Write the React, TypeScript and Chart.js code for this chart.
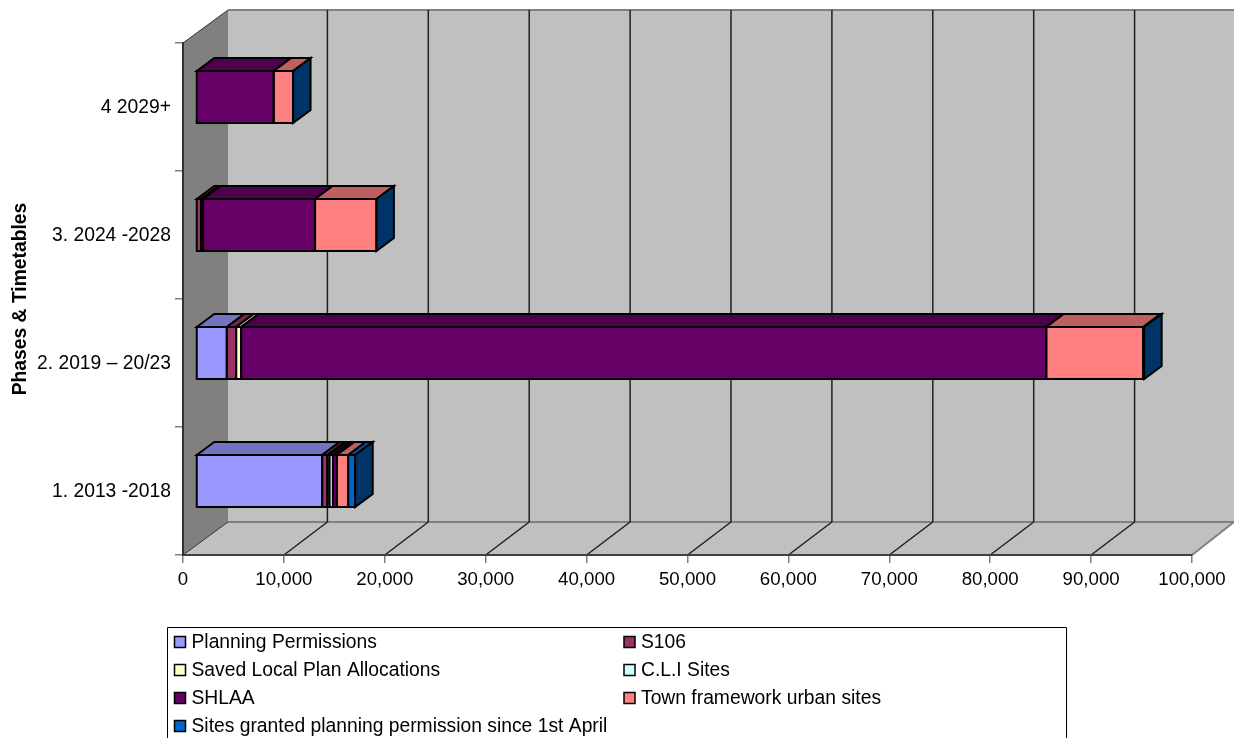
import React, { useEffect, useRef } from "react";
import { Chart, registerables } from "chart.js";

Chart.register(...registerables);

const categories = ["1. 2013 -2018", "2. 2019 – 20/23", "3. 2024 -2028", "4 2029+"];
const planningPermissions = [12500, 3050, 0, 0];
const s106 = [520, 930, 500, 0];
const savedLocalPlan = [200, 490, 100, 0];
const cliSites = [350, 0, 100, 0];
const shlaa = [390, 79800, 11100, 7700];
const townFramework = [1120, 9600, 6080, 1920];
const sitesGranted = [700, 100, 0, 0];
const seriesNames = [
  "Planning Permissions",
  "S106",
  "Saved Local Plan Allocations",
  "C.L.I Sites",
  "SHLAA",
  "Town framework urban sites",
  "Sites granted planning permission since 1st April",
];
const seriesValues = [planningPermissions, s106, savedLocalPlan, cliSites, shlaa, townFramework, sitesGranted];
const seriesColors = ["#9999FF", "#993366", "#FFFFCC", "#CCFFFF", "#660066", "#FF8080", "#0066CC"];
const axisTitle = "Phases & Timetables";

const FONT = '"Liberation Sans", Arial, sans-serif';
const TICK_FONT_SIZE = 18.67;
const FONT_SIZE = 19.3;
// depth of the 3-D box and of the bars inside it
const DX = 45, DY = -33;
const GRID_DX = 43.5;
const RIGHT_DX = 42;
const BAR_DX = 13, BAR_DY = -10, BAR_DEPTH_X = 17.5, BAR_DEPTH_Y = -13;

function shade(hex: string, f: number) {
  const n = parseInt(hex.slice(1), 16);
  const c = [(n >> 16) & 255, (n >> 8) & 255, n & 255].map((v) => Math.round(v * f));
  return `rgb(${c[0]},${c[1]},${c[2]})`;
}

function poly(ctx: CanvasRenderingContext2D, pts: number[][], fill?: string, stroke?: string, lw = 1) {
  ctx.beginPath();
  pts.forEach((p, i) => (i ? ctx.lineTo(p[0], p[1]) : ctx.moveTo(p[0], p[1])));
  ctx.closePath();
  if (fill) {
    ctx.fillStyle = fill;
    ctx.fill();
  }
  if (stroke) {
    ctx.strokeStyle = stroke;
    ctx.lineWidth = lw;
    ctx.lineJoin = "miter";
    ctx.stroke();
  }
}

const box3d = {
  id: "box3d",
  beforeDraw(chart: any) {
    const { ctx, chartArea: a, scales } = chart;
    const { left: l, right: r, top: t, bottom: b } = a;
    ctx.save();
    // side wall
    poly(ctx, [[l, t], [l + DX, t + DY], [l + DX, b + DY], [l, b]], "#808080");
    // back wall
    poly(ctx, [[l + DX, t + DY], [r + DX, t + DY], [r + DX, b + DY], [l + DX, b + DY]], "#C0C0C0");
    // floor
    poly(ctx, [[l, b], [l + DX, b + DY], [r + RIGHT_DX, b + DY], [r, b]], "#C0C0C0");
    // wall edges
    ctx.strokeStyle = "#808080";
    ctx.lineWidth = 2;
    ctx.beginPath();
    ctx.moveTo(l + DX, t + DY);
    ctx.lineTo(r + DX, t + DY);
    ctx.moveTo(l + DX, b + DY);
    ctx.lineTo(r + DX, b + DY);
    ctx.moveTo(r, b);
    ctx.lineTo(r + RIGHT_DX, b + DY);
    ctx.stroke();
    ctx.strokeStyle = "#303030";
    ctx.lineWidth = 1;
    ctx.beginPath();
    ctx.moveTo(l, t);
    ctx.lineTo(l + DX, t + DY);
    ctx.moveTo(l, b);
    ctx.lineTo(l + DX, b + DY);
    ctx.stroke();
    // value gridlines, back wall and floor
    ctx.strokeStyle = "#202020";
    ctx.lineWidth = 1.5;
    ctx.beginPath();
    scales.x.ticks.forEach((tick: any) => {
      const v = tick.value;
      if (v === 0 || v === scales.x.max) return;
      const x = scales.x.getPixelForValue(v);
      const xb = x + GRID_DX;
      ctx.moveTo(xb, t + DY);
      ctx.lineTo(xb, b + DY);
      ctx.moveTo(xb, b + DY);
      ctx.lineTo(x, b);
    });
    ctx.stroke();
    ctx.restore();
  },
  beforeDatasetsDraw(chart: any) {
    chart.ctx.save();
    chart.ctx.translate(BAR_DX, BAR_DY);
  },
  afterDatasetsDraw(chart: any) {
    const { ctx } = chart;
    const n = chart.data.datasets.length;
    ctx.lineWidth = 2;
    ctx.strokeStyle = "#000";
    ctx.lineJoin = "miter";
    // front outlines (still in the translated frame)
    for (let d = 0; d < n; d++) {
      chart.getDatasetMeta(d).data.forEach((el: any) => {
        const p = el.getProps(["x", "y", "base", "height"], true);
        if (Math.abs(p.x - p.base) < 0.1) return;
        ctx.strokeRect(p.base, p.y - p.height / 2, p.x - p.base, p.height);
      });
    }
    // top faces and the closing side face
    for (let d = 0; d < n; d++) {
      const color = chart.data.datasets[d].backgroundColor as string;
      chart.getDatasetMeta(d).data.forEach((el: any) => {
        const p = el.getProps(["x", "y", "base", "height"], true);
        const top = p.y - p.height / 2;
        const bottom = p.y + p.height / 2;
        if (Math.abs(p.x - p.base) >= 0.1) {
          poly(
            ctx,
            [[p.base, top], [p.base + BAR_DEPTH_X, top + BAR_DEPTH_Y], [p.x + BAR_DEPTH_X, top + BAR_DEPTH_Y], [p.x, top]],
            shade(color, 0.75),
            "#000",
            2
          );
        }
        if (d === n - 1) {
          poly(
            ctx,
            [[p.x, top], [p.x + BAR_DEPTH_X, top + BAR_DEPTH_Y], [p.x + BAR_DEPTH_X, bottom + BAR_DEPTH_Y], [p.x, bottom]],
            shade(color, 0.5),
            "#000",
            2
          );
        }
      });
    }
    ctx.restore();
  },
  afterDraw(chart: any) {
    // legend, built from the chart's datasets
    const { ctx } = chart;
    ctx.save();
    ctx.strokeStyle = "#000";
    ctx.lineWidth = 1;
    ctx.fillStyle = "#fff";
    ctx.beginPath();
    ctx.rect(167.5, 627.5, 899, 130);
    ctx.fill();
    ctx.stroke();
    ctx.font = `${FONT_SIZE}px ${FONT}`;
    ctx.textBaseline = "middle";
    ctx.textAlign = "left";
    chart.data.datasets.forEach((ds: any, i: number) => {
      const col = i % 2;
      const row = Math.floor(i / 2);
      const y = 642.5 + row * 28;
      const x = col ? 624 : 174.5;
      ctx.fillStyle = ds.backgroundColor;
      ctx.fillRect(x, y - 6, 11, 11);
      ctx.strokeStyle = "#000";
      ctx.lineWidth = 1.5;
      ctx.strokeRect(x, y - 6, 11, 11);
      ctx.fillStyle = "#000";
      ctx.fillText(ds.label, x + 17, y + 0.5);
    });
    ctx.restore();
  },
};

export default function App() {
  const ref = useRef<HTMLCanvasElement>(null);
  useEffect(() => {
    document.body.style.margin = "0";
    const chart = new Chart(ref.current as HTMLCanvasElement, {
      type: "bar",
      data: {
        labels: categories,
        datasets: seriesNames.map((label, i) => ({
          label,
          data: seriesValues[i],
          backgroundColor: seriesColors[i],
          borderWidth: 0,
          barPercentage: 0.406,
          categoryPercentage: 1,
          clip: false as any,
        })),
      },
      options: {
        indexAxis: "y",
        animation: false,
        responsive: false,
        devicePixelRatio: 1,
        layout: { padding: { top: 43, right: 42, bottom: 0, left: 0 } },
        plugins: { legend: { display: false }, tooltip: { enabled: false } },
        scales: {
          x: {
            stacked: true,
            min: 0,
            max: 100000,
            afterFit: (s: any) => {
              s.height = 183;
            },
            ticks: {
              stepSize: 10000,
              maxRotation: 0,
              autoSkip: false,
              color: "#000",
              padding: 6,
              font: { family: FONT, size: TICK_FONT_SIZE },
              callback: (v: any) => Number(v).toLocaleString("en-US"),
            },
            grid: { drawOnChartArea: false, drawTicks: true, tickLength: 8, color: "#808080", lineWidth: 1.5 },
            border: { color: "#404040", width: 2 },
          },
          y: {
            stacked: true,
            reverse: true,
            afterFit: (s: any) => {
              s.width = 183;
            },
            ticks: { color: "#000", padding: 4, labelOffset: 1, font: { family: FONT, size: FONT_SIZE } },
            grid: { drawOnChartArea: false, drawTicks: true, tickLength: 8, color: "#808080", lineWidth: 1.5 },
            border: { color: "#303030", width: 2 },
            title: {
              display: true,
              text: axisTitle,
              color: "#000",
              padding: { top: 9, bottom: 0 },
              font: { family: FONT, size: FONT_SIZE, weight: "bold" },
            },
          },
        },
      },
      plugins: [box3d],
    } as any);
    return () => chart.destroy();
  }, []);
  return (
    <canvas
      ref={ref}
      width={1234}
      height={738}
      style={{ display: "block", position: "absolute", left: 0, top: 0, width: 1234, height: 738 }}
    />
  );
}
